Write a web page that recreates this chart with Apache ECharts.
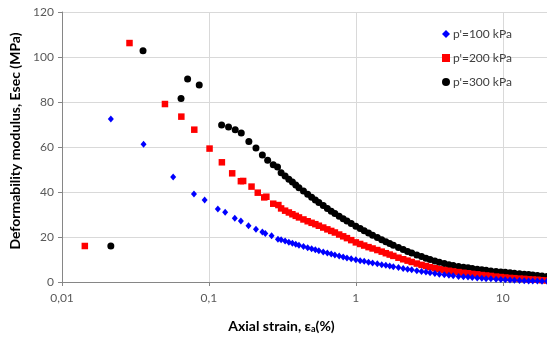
<!DOCTYPE html>
<html>
<head>
<meta charset="utf-8">
<script src="https://cdn.jsdelivr.net/npm/echarts@6/dist/echarts.min.js"></script>
<style>
html,body{margin:0;padding:0;background:#fff;}
#chart{width:547px;height:342px;}
</style>
</head>
<body>
<div id="chart"></div>
<script>
// Series names
const seriesNames = ["p'=100 kPa", "p'=200 kPa", "p'=300 kPa"];

// Sparse (early) points: [axial strain %, Esec MPa]
const blueEarly = [[0.0215,72.4],[0.0359,61.2],[0.0571,46.7],[0.0791,39.1],[0.0935,36.4],[0.115,32.4],[0.129,31.0],[0.150,28.3],[0.165,27.1],[0.186,25.0],[0.209,23.4],[0.231,22.2],[0.242,21.6],[0.267,20.6],[0.295,19.0]];
const redEarly = [[0.0143,16.0],[0.0288,106.2],[0.0502,79.1],[0.0649,73.5],[0.0795,67.7],[0.101,59.3],[0.1225,53.2],[0.144,48.3],[0.165,44.8],[0.171,44.9],[0.195,42.4],[0.215,39.7],[0.238,37.6],[0.246,37.9],[0.274,34.8],[0.297,34.2]];
const blackEarly = [[0.0215,16.0],[0.0356,102.8],[0.0646,81.6],[0.0716,90.2],[0.0859,87.6],[0.122,69.8],[0.136,68.9],[0.151,67.7],[0.166,66.2],[0.187,62.5],[0.209,59.6],[0.231,56.4],[0.251,54.1],[0.274,52.1],[0.293,51.1]];

// Dense part: strain values (%) and Esec read along each band
const denseStrain = [0.31,0.33,0.35,0.37,0.39,0.41,0.44,0.47,0.5,0.53,0.56,0.6,0.64,0.68,0.72,0.77,0.82,0.87,0.93,1.0,1.07,1.14,1.22,1.3,1.4,1.5,1.6,1.7,1.8,1.95,2.1,2.25,2.4,2.6,2.8,3.0,3.2,3.45,3.7,4.0,4.3,4.6,5.0,5.4,5.8,6.2,6.7,7.2,7.7,8.3,9.0,9.7,10.4,11.2,12,13,14,15,16,17.2,18.5,20];
const blueDense = [18.8,18.2,17.7,17.2,16.8,16.3,15.8,15.2,14.8,14.3,13.9,13.3,12.9,12.4,12.0,11.6,11.1,10.7,10.3,9.9,9.5,9.2,8.8,8.5,8.1,7.7,7.4,7.1,6.8,6.4,6.0,5.7,5.4,5.0,4.7,4.4,4.1,3.8,3.5,3.2,3.0,2.8,2.5,2.3,2.2,2.0,1.8,1.7,1.5,1.4,1.2,1.1,1.0,0.9,0.8,0.7,0.6,0.5,0.5,0.4,0.3,0.3];
const redDense = [32.7,31.7,30.9,30.1,29.4,28.7,27.8,27.0,26.3,25.7,25.0,24.2,23.4,22.7,22.0,21.1,20.3,19.5,18.6,17.6,16.9,16.2,15.5,14.9,14.2,13.5,12.8,12.2,11.6,10.8,10.1,9.5,8.9,8.2,7.6,7.1,6.6,6.1,5.7,5.3,5.0,4.7,4.4,4.1,3.9,3.6,3.4,3.1,2.9,2.7,2.4,2.2,2.0,1.8,1.7,1.5,1.4,1.2,1.1,1.0,0.8,0.7];
const blackDense = [48.6,47.1,45.7,44.4,43.1,41.9,40.4,39.0,37.7,36.5,35.3,34.0,32.7,31.5,30.4,29.2,28.1,27.1,26.0,24.8,23.8,22.8,21.8,20.8,19.8,18.8,17.9,17.1,16.3,15.3,14.4,13.6,12.9,12.0,11.3,10.6,10.0,9.3,8.8,8.2,7.7,7.3,6.9,6.6,6.3,6.0,5.7,5.4,5.2,4.9,4.7,4.5,4.3,4.1,3.9,3.7,3.5,3.3,3.1,2.9,2.7,2.5];

// Axis settings
const xMin = 0.01, xMax = 20;
const yMin = 0, yMax = 120, yStep = 20;

function build(early, dense) {
  return early.concat(denseStrain.map((s, i) => [s, dense[i]]));
}

const FONT = 'Lato, "Liberation Sans", sans-serif';
const chart = echarts.init(document.getElementById('chart'), null, {renderer: 'canvas'});
chart.setOption({
  animation: false,
  backgroundColor: '#ffffff',
  textStyle: {fontFamily: FONT},
  grid: {left: 62, right: 0, top: 12, bottom: 60, containLabel: false},
  legend: {
    orient: 'vertical', left: 437, top: 23, itemGap: 12,
    itemWidth: 8, itemHeight: 8,
    textStyle: {fontFamily: FONT, fontSize: 12, color: '#404040', padding: [0,0,0,-2]},
    data: [
      {name: seriesNames[0], icon: 'diamond'},
      {name: seriesNames[1], icon: 'rect'},
      {name: seriesNames[2], icon: 'circle'}
    ]
  },
  xAxis: {
    type: 'log', logBase: 10, min: xMin, max: xMax,
    name: 'Axial strain, ε{s|a}(%)', nameLocation: 'middle', nameGap: 37,
    nameTextStyle: {fontFamily: FONT, fontWeight: 'bold', fontSize: 14, color: '#000', padding: [0, 46, 0, 0],
      rich: {s: {fontSize: 9, fontWeight: 'bold', verticalAlign: 'bottom', padding: [6,0,0,0], color: '#000'}}},
    axisLine: {show: true, lineStyle: {color: '#868686', width: 1}},
    axisTick: {show: true, length: 4, lineStyle: {color: '#868686'}},
    axisLabel: {show: true, fontSize: 12, color: '#595959', margin: 10, showMaxLabel: false,
      formatter: v => String(v).replace('.', ',')},
    splitLine: {show: true, showMinLine: false, showMaxLine: false, lineStyle: {color: '#d9d9d9', width: 1}},
    minorTick: {show: false}
  },
  yAxis: {
    type: 'value', min: yMin, max: yMax, interval: yStep,
    name: 'Deformability modulus, Esec (MPa)', nameLocation: 'middle', nameGap: 33,
    nameTextStyle: {fontFamily: FONT, fontWeight: 'bold', fontSize: 14, color: '#000', padding: [0, 0, 0, 12]},
    axisLine: {show: true, lineStyle: {color: '#868686', width: 1}},
    axisTick: {show: true, length: 4, lineStyle: {color: '#868686'}},
    axisLabel: {fontSize: 12, color: '#595959', margin: 8},
    splitLine: {show: true, lineStyle: {color: '#d9d9d9', width: 1}}
  },
  series: [
    {name: seriesNames[2], type: 'scatter', symbol: 'circle', symbolSize: 7,
      itemStyle: {color: '#000000', opacity: 1}, data: build(blackEarly, blackDense), z: 3},
    {name: seriesNames[1], type: 'scatter', symbol: 'rect', symbolSize: 6.5,
      itemStyle: {color: '#ff0000', opacity: 1}, data: build(redEarly, redDense), z: 4},
    {name: seriesNames[0], type: 'scatter', symbol: 'diamond', symbolSize: [6, 7],
      itemStyle: {color: '#0000ff', opacity: 1}, data: build(blueEarly, blueDense), z: 5}
  ]
});
</script>
</body>
</html>
